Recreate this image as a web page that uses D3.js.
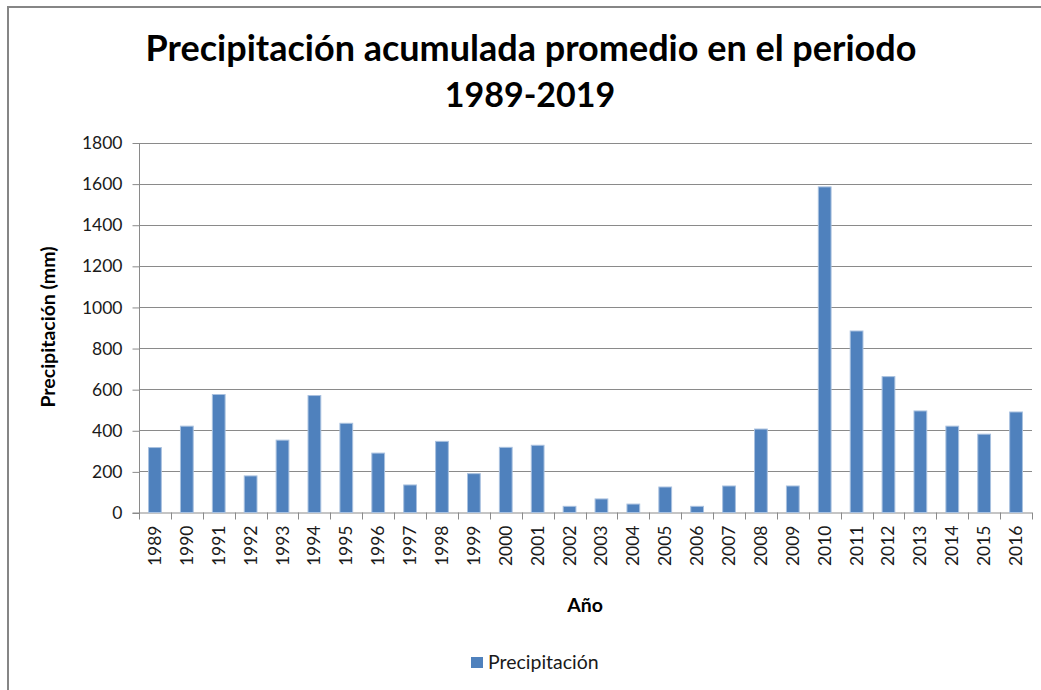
<!DOCTYPE html>
<html>
<head>
<meta charset="utf-8">
<script src="https://cdn.jsdelivr.net/npm/d3@7"></script>
<style>
  html, body { margin: 0; padding: 0; background: #fff; }
  svg { display: block; }
</style>
</head>
<body>
<script>
const years = ["1989","1990","1991","1992","1993","1994","1995","1996","1997","1998","1999","2000","2001","2002","2003","2004","2005","2006","2007","2008","2009","2010","2011","2012","2013","2014","2015","2016"];
const precip = [316,420,574,178,352,569,434,289,134,346,189,317,327,30,66,41,124,30,129,406,129,1584,883,661,494,420,381,489];
const yTicks = [0,200,400,600,800,1000,1200,1400,1600,1800];
const titleLines = ["Precipitación acumulada promedio en el periodo", "1989-2019"];
const yTitle = "Precipitación (mm)";
const xTitle = "Año";
const seriesName = "Precipitación";

const W = 1041, H = 690;
const FONT = "Lato, 'Open Sans', sans-serif";
const svg = d3.select("body").append("svg").attr("width", W).attr("height", H);

// chart border
svg.append("path")
  .attr("d", `M8,${H} L8,7 L${W},7`)
  .attr("fill", "none").attr("stroke", "#868686").attr("stroke-width", 2);

const plot = {left: 139, right: 1032, top: 142.5, bottom: 512.5};

const x = d3.scaleBand().domain(years).range([plot.left, plot.right]).paddingInner(0.6).paddingOuter(0.3);
const y = d3.scaleLinear().domain([0, 1800]).range([plot.bottom, plot.top]);

// gridlines
svg.append("g").selectAll("line").data(yTicks.filter(d => d > 0)).join("line")
  .attr("x1", plot.left).attr("x2", plot.right)
  .attr("y1", d => Math.round(y(d)) + 0.5).attr("y2", d => Math.round(y(d)) + 0.5)
  .attr("stroke", "#8a8a8a").attr("stroke-width", 1);

// y axis
const yAxis = d3.axisLeft(y).tickValues(yTicks).tickSize(7).tickPadding(10).tickFormat(d3.format("d"));
const gy = svg.append("g").attr("transform", `translate(${plot.left + 0.5},0.5)`).call(yAxis);
gy.select(".domain").attr("stroke", "#8a8a8a").attr("d", `M-7,${plot.bottom}H0V${plot.top}`);
gy.selectAll(".tick line").attr("stroke", "#8a8a8a");
gy.selectAll(".tick text").attr("font-family", FONT).attr("font-size", 17.5).attr("fill", "#1a1a1a");

// x axis baseline and category boundary ticks
const bounds = d3.range(years.length + 1).map(i => plot.left + i * (plot.right - plot.left) / years.length);
svg.append("line").attr("x1", plot.left).attr("x2", plot.right)
  .attr("y1", plot.bottom + 0.5).attr("y2", plot.bottom + 0.5).attr("stroke", "#8a8a8a");
svg.append("g").selectAll("line").data(bounds).join("line")
  .attr("x1", d => Math.round(d) + 0.5).attr("x2", d => Math.round(d) + 0.5)
  .attr("y1", plot.bottom).attr("y2", plot.bottom + 7).attr("stroke", "#8a8a8a");

// x labels (rotated)
svg.append("g").selectAll("text").data(years).join("text")
  .attr("transform", d => `translate(${x(d) + x.bandwidth() / 2 + 6},${plot.bottom + 13}) rotate(-90)`)
  .attr("text-anchor", "end")
  .attr("font-family", FONT).attr("font-size", 17.5).attr("fill", "#1a1a1a")
  .text(d => d);

// bars
svg.append("g").selectAll("rect").data(years).join("rect")
  .attr("x", d => x(d))
  .attr("y", (d, i) => y(precip[i]))
  .attr("width", x.bandwidth())
  .attr("height", (d, i) => y(0) - y(precip[i]))
  .attr("fill", "#4F81BD").attr("stroke", "#a9c1df").attr("stroke-width", 1);

// title
const t = svg.append("g");
t.append("text").attr("x", 531).attr("y", 61).attr("text-anchor", "middle")
  .attr("font-family", FONT).attr("font-weight", "bold").attr("font-size", 36).attr("fill", "#000")
  .text(titleLines[0]);
t.append("text").attr("x", 530).attr("y", 107).attr("text-anchor", "middle")
  .attr("font-family", FONT).attr("font-weight", "bold").attr("font-size", 34).attr("fill", "#000")
  .text(titleLines[1]);

// axis titles
svg.append("text").attr("transform", "translate(55,327) rotate(-90)").attr("text-anchor", "middle")
  .attr("font-family", FONT).attr("font-weight", "bold").attr("font-size", 19.5).attr("fill", "#000")
  .text(yTitle);
svg.append("text").attr("x", 585).attr("y", 612).attr("text-anchor", "middle")
  .attr("font-family", FONT).attr("font-weight", "bold").attr("font-size", 19.5).attr("fill", "#000")
  .text(xTitle);

// legend
svg.append("rect").attr("x", 471).attr("y", 657).attr("width", 12).attr("height", 11).attr("fill", "#4F81BD");
svg.append("text").attr("x", 488).attr("y", 669).attr("font-family", FONT).attr("font-size", 19.5).attr("fill", "#1a1a1a")
  .text(seriesName);
</script>
</body>
</html>
